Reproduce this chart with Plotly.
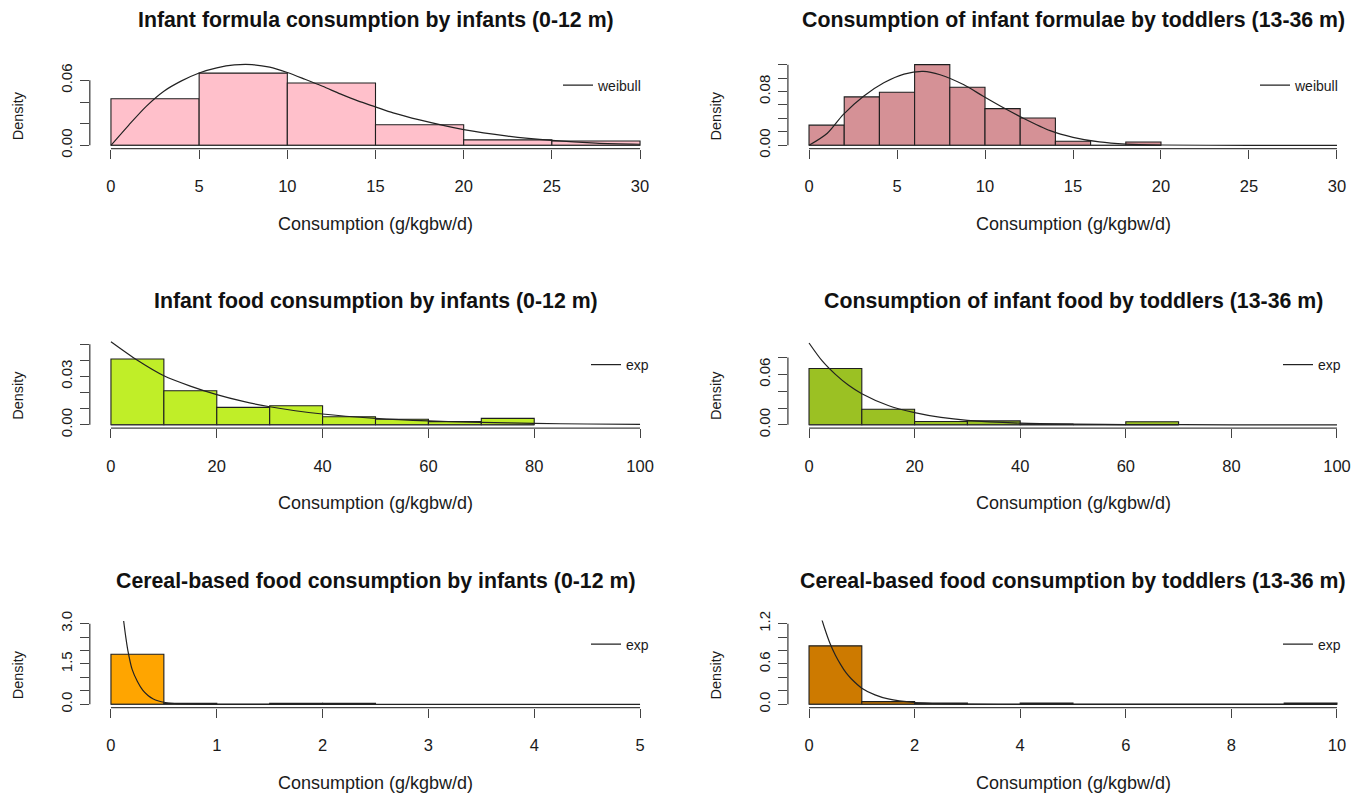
import plotly.graph_objects as go

# ---------------- data ----------------
titles = [
    "Infant formula consumption by infants (0-12 m)",
    "Consumption of infant formulae by toddlers (13-36 m)",
    "Infant food consumption by infants (0-12 m)",
    "Consumption of infant food by toddlers (13-36 m)",
    "Cereal-based food consumption by infants (0-12 m)",
    "Cereal-based food consumption by toddlers (13-36 m)",
]
fit_names = ["weibull", "weibull", "exp", "exp", "exp", "exp"]

p1_breaks = [0, 5, 10, 15, 20, 25, 30]
p1_density = [0.043, 0.0667, 0.0575, 0.019, 0.005, 0.004]
p1_curve_x = [0, 1, 2, 3, 4, 5, 6, 7, 8, 9, 10, 11, 12, 13, 14, 15, 16, 17.5, 20, 22.5, 25, 27.5, 30]
p1_curve_y = [0, 0.0185, 0.036, 0.050, 0.0595, 0.0668, 0.0715, 0.0742, 0.0745, 0.0722, 0.0672,
              0.061, 0.0545, 0.0475, 0.041, 0.0355, 0.030, 0.0235, 0.0145, 0.0085, 0.0045,
              0.002, 0.001]

p2_breaks = [0, 2, 4, 6, 8, 10, 12, 14, 16, 18, 20]
p2_density = [0.030, 0.072, 0.079, 0.120, 0.0864, 0.0546, 0.0407, 0.006, 0.0, 0.005]
p2_curve_x = [0, 1.04, 1.94, 3.1, 4.25, 5.4, 6.5, 7.45, 8.8, 9.9, 11, 12.2, 13.7, 15, 16.5, 18, 20, 25, 30]
p2_curve_y = [0, 0.018, 0.0457, 0.073, 0.093, 0.106, 0.110, 0.105, 0.090, 0.073, 0.0566, 0.040,
              0.0218, 0.0119, 0.005, 0.0018, 0.0005, 0, 0]

p3_breaks = [0, 10, 20, 30, 40, 50, 60, 70, 80]
p3_density = [0.0408, 0.0211, 0.0108, 0.0118, 0.005, 0.0035, 0.002, 0.004]
p3_curve_x = [0, 5, 10, 15, 20, 25, 30, 40, 50, 60, 70, 80, 90, 100]
p3_curve_y = [0.0515, 0.040, 0.0304, 0.024, 0.0187, 0.0145, 0.0112, 0.0067, 0.004, 0.0024,
              0.0015, 0.0009, 0.0005, 0.0003]

p4_breaks = [0, 10, 20, 30, 40, 50, 60, 70]
p4_density = [0.067, 0.0185, 0.0039, 0.0047, 0.001, 0.0, 0.0036]
p4_curve_x = [0, 2.5, 5, 7.5, 10, 15, 20, 25, 30, 40, 50, 60, 80, 100]
p4_curve_y = [0.0974, 0.076, 0.060, 0.047, 0.037, 0.023, 0.0145, 0.0088, 0.0053, 0.002,
              0.0008, 0.0003, 0.00005, 0]

p5_breaks = [0, 0.5, 1, 1.5, 2, 2.5]
p5_density = [1.86, 0.04, 0.0, 0.04, 0.04]
p5_curve_x = [0.12, 0.14, 0.16, 0.2, 0.25, 0.3, 0.35, 0.4, 0.45, 0.5, 0.6, 0.8, 1.0, 2, 3, 4, 5]
p5_curve_y = [3.10, 2.50, 2.00, 1.30, 0.85, 0.53, 0.33, 0.20, 0.125, 0.076, 0.03, 0.005,
              0.001, 0, 0, 0, 0]

p6_breaks = [0, 1, 2, 3, 4, 5, 6, 7, 8, 9, 10]
p6_density = [0.87, 0.04, 0.018, 0, 0.018, 0, 0, 0, 0, 0.018]
p6_curve_x = [0.24, 0.3, 0.4, 0.5, 0.6, 0.7, 0.8, 1.0, 1.25, 1.5, 2.0, 2.5, 3, 4, 6, 10]
p6_curve_y = [1.27, 1.12, 0.90, 0.73, 0.59, 0.47, 0.38, 0.24, 0.14, 0.08, 0.027, 0.009,
              0.003, 0.0003, 0, 0]

x_ticks = [
    [0, 5, 10, 15, 20, 25, 30],
    [0, 5, 10, 15, 20, 25, 30],
    [0, 20, 40, 60, 80, 100],
    [0, 20, 40, 60, 80, 100],
    [0, 1, 2, 3, 4, 5],
    [0, 2, 4, 6, 8, 10],
]
y_ticks = [
    [0, 0.02, 0.04, 0.06],
    [0, 0.02, 0.04, 0.06, 0.08, 0.10, 0.12],
    [0, 0.01, 0.02, 0.03, 0.04, 0.05],
    [0, 0.02, 0.04, 0.06, 0.08],
    [0, 0.5, 1.0, 1.5, 2.0, 2.5, 3.0],
    [0, 0.2, 0.4, 0.6, 0.8, 1.0, 1.2],
]
y_ticklabels = [
    ["0.00", "", "", "0.06"],
    ["0.00", "", "", "", "0.08", "", ""],
    ["0.00", "", "", "0.03", "", ""],
    ["0.00", "", "", "0.06", ""],
    ["0.0", "", "", "1.5", "", "", "3.0"],
    ["0.0", "", "", "0.6", "", "", "1.2"],
]
y_lims = [0.0745, 0.12, 0.050, 0.096, 3.0, 1.2]
fill_colors = ["#FFC0CB", "#D59196", "#C0EE28", "#9BC123", "#FFA500", "#CD7A00"]

breaks_all = [p1_breaks, p2_breaks, p3_breaks, p4_breaks, p5_breaks, p6_breaks]
dens_all = [p1_density, p2_density, p3_density, p4_density, p5_density, p6_density]
cx_all = [p1_curve_x, p2_curve_x, p3_curve_x, p4_curve_x, p5_curve_x, p6_curve_x]
cy_all = [p1_curve_y, p2_curve_y, p3_curve_y, p4_curve_y, p5_curve_y, p6_curve_y]

x_label = "Consumption (g/kgbw/d)"
y_label = "Density"

# ---------------- layout geometry (pixels) ----------------
W, H = 1365, 795
FONT = "Liberation Sans, Arial, sans-serif"
col_left = [89.8, 787.9]
col_right = [661.2, 1358.1]
row_top0, row_bot0, row_step = 61.9, 149.0, 279.4
# vertical calibration of the photographed page
V_OFF, V_SCALE = 9.5, 0.977


def px_x(v):
    return v / W


def px_y(v):
    v = (v - V_OFF) / V_SCALE
    return 1 - v / H


fig = go.Figure()
shapes = []
annotations = []
layout_axes = {}

for i in range(6):
    r, c = divmod(i, 2)
    n = i + 1
    xa = "x" if n == 1 else f"x{n}"
    ya = "y" if n == 1 else f"y{n}"
    leg = "legend" if n == 1 else f"legend{n}"
    top = row_top0 + r * row_step
    bot = row_bot0 + r * row_step

    br = breaks_all[i]
    dens = dens_all[i]
    centers = [(br[k] + br[k + 1]) / 2 for k in range(len(dens))]
    widths = [br[k + 1] - br[k] for k in range(len(dens))]

    # histogram bars
    fig.add_trace(go.Bar(
        x=centers, y=dens, width=widths, xaxis=xa, yaxis=ya,
        marker=dict(color=fill_colors[i], line=dict(color="#1e1e1e", width=1.1)),
        showlegend=False, hoverinfo="x+y",
    ))
    # zero-height bins outline (as R hist draws every bin)
    fig.add_trace(go.Scatter(
        x=[br[0], br[-1]], y=[0, 0], xaxis=xa, yaxis=ya, mode="lines",
        line=dict(color="#333333", width=1), showlegend=False, hoverinfo="skip",
    ))
    # fitted density curve
    fig.add_trace(go.Scatter(
        x=cx_all[i], y=cy_all[i], xaxis=xa, yaxis=ya, mode="lines",
        line=dict(color="#222222", width=1.2, shape="spline", smoothing=0.8),
        name=fit_names[i], legend=leg, showlegend=True,
    ))

    xt = x_ticks[i]
    xspan = xt[-1] - xt[0]
    ylim = y_lims[i]
    layout_axes["xaxis" if n == 1 else f"xaxis{n}"] = dict(
        domain=[px_x(col_left[c]), px_x(col_right[c])],
        anchor=ya, range=[xt[0] - 0.04 * xspan, xt[-1] + 0.04 * xspan],
        tickvals=xt, ticktext=[str(v) for v in xt],
        ticks="outside", ticklen=9, tickwidth=1, tickcolor="#444444",
        showline=False, showgrid=False, zeroline=False,
        tickfont=dict(family=FONT, size=16.5, color="#1a1a1a"),
        ticklabelstandoff=14, fixedrange=True,
    )
    layout_axes["yaxis" if n == 1 else f"yaxis{n}"] = dict(
        domain=[px_y(bot), px_y(top)],
        anchor=xa, range=[-0.04 * ylim, 1.04 * ylim],
        tickvals=y_ticks[i], ticktext=y_ticklabels[i], tickangle=-90,
        ticks="outside", ticklen=9, tickwidth=1, tickcolor="#444444",
        showline=False, showgrid=False, zeroline=False,
        tickfont=dict(family=FONT, size=15, color="#1a1a1a"),
        ticklabelstandoff=2, fixedrange=True,
    )
    # R-style axis lines spanning only first..last tick
    shapes.append(dict(type="line", xref=xa, yref=f"{ya} domain",
                       x0=xt[0], x1=xt[-1], y0=0, y1=0,
                       line=dict(color="#444444", width=1.3)))
    shapes.append(dict(type="line", xref=f"{xa} domain", yref=ya,
                       x0=0, x1=0, y0=y_ticks[i][0], y1=y_ticks[i][-1],
                       line=dict(color="#444444", width=1.3)))

    cx_mid = (col_left[c] + col_right[c]) / 2
    annotations.append(dict(
        text=f"<b>{titles[i]}</b>", xref="paper", yref="paper",
        x=px_x(cx_mid), y=px_y([20, 301, 581][r]), xanchor="center", yanchor="middle",
        showarrow=False, font=dict(family=FONT, size=21.3, color="#111111"),
    ))
    annotations.append(dict(
        text=x_label, xref="paper", yref="paper",
        x=px_x(cx_mid), y=px_y(224 + r * row_step), xanchor="center", yanchor="middle",
        showarrow=False, font=dict(family=FONT, size=18, color="#1a1a1a"),
    ))
    annotations.append(dict(
        text=y_label, xref="paper", yref="paper", textangle=-90,
        x=px_x(col_left[c] - 72), y=px_y(116 + r * row_step), xanchor="center", yanchor="middle",
        showarrow=False, font=dict(family=FONT, size=14.5, color="#1a1a1a"),
    ))

    # legend (top-right, no box)
    text_start = [598, 1295, 626, 1318, 626, 1318][i]
    layout_axes[leg] = dict(
        x=px_x(text_start - 40), y=px_y(70 + r * row_step),
        xanchor="left", yanchor="top", bgcolor="rgba(0,0,0,0)", borderwidth=0,
        font=dict(family=FONT, size=14, color="#1a1a1a"),
    )

fig.update_layout(
    width=W, height=H, margin=dict(l=0, r=0, t=0, b=0),
    paper_bgcolor="white", plot_bgcolor="white",
    barmode="overlay", shapes=shapes, annotations=annotations,
    font=dict(family=FONT),
    **layout_axes,
)

fig.write_html(
    "out.html",
    config={"displayModeBar": False},
    post_script=(
        "var d=document.getElementById('{plot_id}');"
        "d.style.position='fixed';d.style.top='0px';d.style.left='0px';"
        "document.body.style.margin='0';"
        "document.documentElement.style.overflow='hidden';"
    ),
)
